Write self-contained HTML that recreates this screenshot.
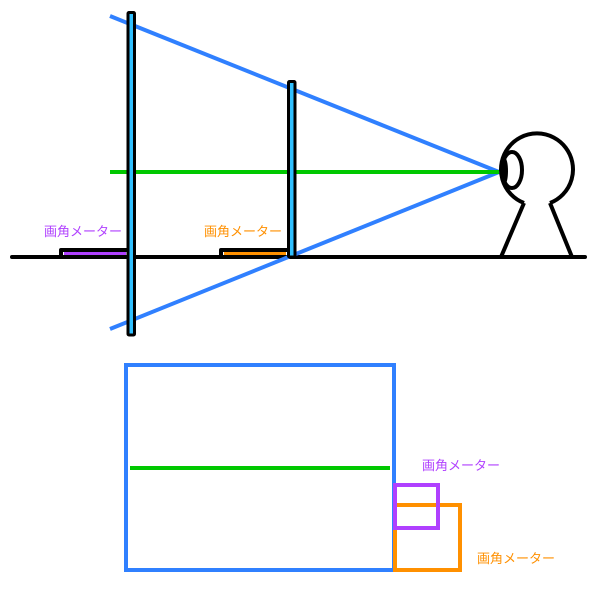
<!DOCTYPE html>
<html><head><meta charset="utf-8"><style>
html,body{margin:0;padding:0;background:#fff;width:600px;height:600px;overflow:hidden}
text{font-family:"Liberation Sans","Noto Sans CJK JP",sans-serif;font-size:13px}
</style></head><body>
<svg width="600" height="600" viewBox="0 0 600 600">
<g>
<line x1="12" y1="257" x2="585" y2="257" stroke="#000" stroke-width="4" stroke-linecap="round"/>
<line x1="499" y1="172" x2="110" y2="16" stroke="#3080ff" stroke-width="4"/>
<line x1="499" y1="172" x2="110" y2="329" stroke="#3080ff" stroke-width="4"/>
<line x1="110" y1="172" x2="499" y2="172" stroke="#00c800" stroke-width="4"/>
<path d="M61,257 V250 H128" fill="none" stroke="#000" stroke-width="4" stroke-linejoin="round"/>
<line x1="64" y1="253.5" x2="126" y2="253.5" stroke="#b040ff" stroke-width="3"/>
<path d="M221,257 V250 H288" fill="none" stroke="#000" stroke-width="4" stroke-linejoin="round"/>
<line x1="224" y1="253.5" x2="286" y2="253.5" stroke="#ff9000" stroke-width="3"/>
<rect x="128" y="12.5" width="6.5" height="322.5" fill="#30c0ff" stroke="#000" stroke-width="3" rx="1"/>
<rect x="288.5" y="81.5" width="6.5" height="175.5" fill="#30c0ff" stroke="#000" stroke-width="3" rx="1"/>
<text x="44" y="236" fill="#b040ff">画角メーター</text>
<text x="204" y="236" fill="#ff9000">画角メーター</text>
<g stroke="#000" stroke-width="4" fill="#fff">
<path d="M524,203 L501,257 M550,203 L572,257" fill="none"/>
<path d="M524,203 A36,36 0 1,1 550,203" />
<ellipse cx="512" cy="170" rx="10" ry="18"/>
<ellipse cx="505" cy="171" rx="3" ry="13" fill="#000" stroke="none"/>
</g>
</g>
<g>
<rect x="126" y="365" width="268" height="205" fill="none" stroke="#3080ff" stroke-width="4"/>
<line x1="130" y1="468" x2="390" y2="468" stroke="#00c800" stroke-width="4"/>
<rect x="395" y="505" width="65" height="65" fill="none" stroke="#ff9000" stroke-width="4"/>
<rect x="395" y="485" width="43" height="43" fill="none" stroke="#b040ff" stroke-width="4"/>
<text x="422" y="470" fill="#b040ff">画角メーター</text>
<text x="477" y="563" fill="#ff9000">画角メーター</text>
</g>
</svg>
</body></html>
